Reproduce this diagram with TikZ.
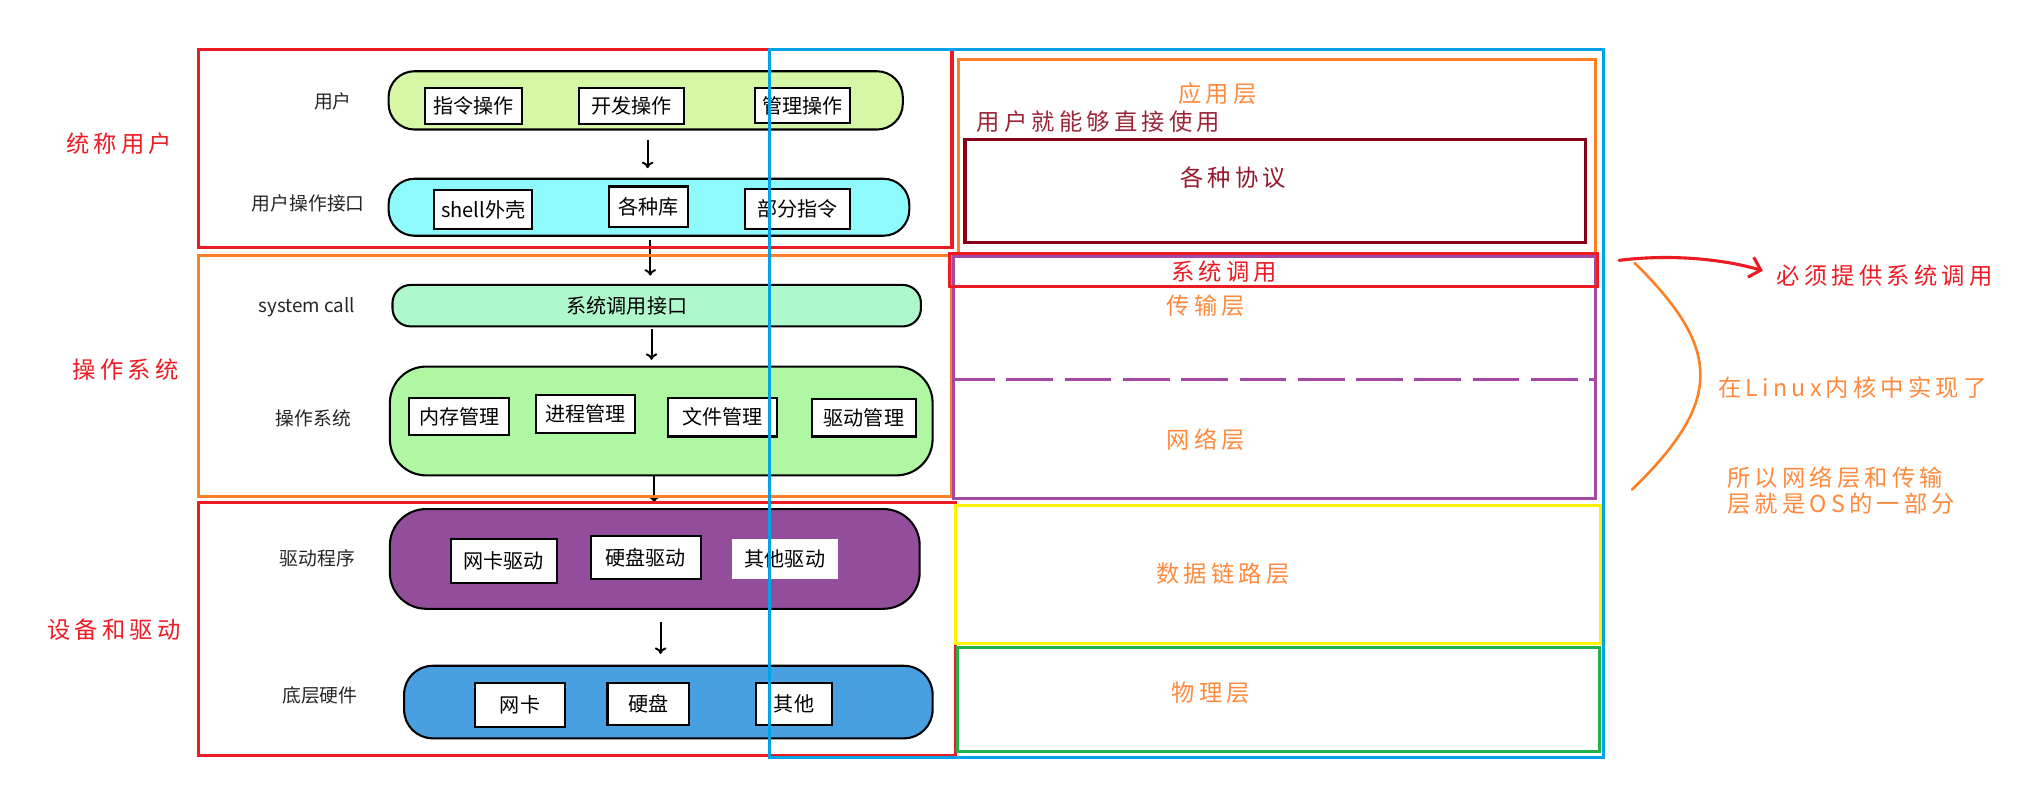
\documentclass[tikz,border=0pt]{standalone}
\usepackage{fontspec}
\usetikzlibrary{arrows.meta}
\newfontfamily\cjk{Noto Sans CJK SC}
\newfontfamily\hand[LetterSpace=18]{Noto Sans CJK SC}
\definecolor{pred}{HTML}{ED1C24}
\definecolor{porange}{HTML}{FF7F27}
\definecolor{torg}{HTML}{FF8A3D}
\definecolor{pblue}{HTML}{00A2E8}
\definecolor{ppurple}{HTML}{A349A4}
\definecolor{pyellow}{HTML}{FFF200}
\definecolor{pgreen}{HTML}{22B14C}
\definecolor{pdark}{HTML}{880015}
\definecolor{fillA}{HTML}{D6F8A6}
\definecolor{fillB}{HTML}{8EFAFB}
\definecolor{fillC}{HTML}{AEF8CC}
\definecolor{fillD}{HTML}{B0F7A3}
\definecolor{fillE}{HTML}{934E9B}
\definecolor{fillF}{HTML}{48A0E0}
\tikzset{
  pill/.style={draw=black, line width=1.6pt, rounded corners=#1},
  inbox/.style={draw=black, line width=1.6pt, fill=white, inner sep=0pt, font=\cjk\fontsize{15.5}{17}\selectfont},
  rowlabel/.style={font=\cjk\fontsize{14.5}{17}\selectfont, text=black!85},
  frame/.style={line width=2.4pt},
  flow/.style={line width=1.5pt, -{To[length=5pt,width=9pt,line width=1.5pt]}},
  sidelabel/.style={font=\hand\fontsize{18}{20}\selectfont, text=pred},
  layer/.style={font=\hand\fontsize{18}{20}\selectfont, text=torg},
}
\begin{document}
\begin{tikzpicture}[x=1pt,y=-1pt]
\useasboundingbox (0,0) rectangle (1568,623);
\fill[white] (0,0) rectangle (1568,623);

% ---- pills ----
\draw[pill=20pt, fill=fillA] (300,55) rectangle (697,100);
\node[inner sep=0pt, minimum width=397pt, minimum height=45pt] (p1) at (498.5,77.5) {};
\draw[pill=20pt, fill=fillB] (300,138) rectangle (702,182);
\node[inner sep=0pt, minimum width=402pt, minimum height=44pt] (p2) at (501,160) {};
\draw[pill=14pt, fill=fillC] (303,220) rectangle (711,252);
\node[inner sep=0pt, minimum width=408pt, minimum height=32pt] (p3) at (507,236) {};
\node[inner sep=0pt, font=\cjk\fontsize{15.5}{17}\selectfont] (p3t) at (484,236) {系统调用接口};
\draw[pill=28pt, fill=fillD] (301,283) rectangle (720,367);
\node[inner sep=0pt, minimum width=419pt, minimum height=84pt] (p4) at (510.5,325) {};
\draw[pill=28pt, fill=fillE] (301,393) rectangle (710,470);
\node[inner sep=0pt, minimum width=409pt, minimum height=77pt] (p5) at (505.5,431.5) {};
\draw[pill=22pt, fill=fillF] (312,514) rectangle (720,570);
\node[inner sep=0pt, minimum width=408pt, minimum height=56pt] (p6) at (516,542) {};

% ---- inner boxes ----
\node[inbox, minimum width=75pt, minimum height=28pt] (b11) at (365.5,82) {指令操作};
\node[inbox, minimum width=81pt, minimum height=28pt] (b12) at (487.5,82) {开发操作};
\node[inbox, minimum width=73pt, minimum height=27pt] (b13) at (619.5,81.5) {管理操作};
\node[inbox, minimum width=76pt, minimum height=30pt] (b21) at (373,162) {shell外壳};
\node[inbox, minimum width=61pt, minimum height=31pt] (b22) at (500.5,159.5) {各种库};
\node[inbox, minimum width=81pt, minimum height=31pt] (b23) at (615.5,161.5) {部分指令};
\node[inbox, minimum width=77pt, minimum height=29pt] (b41) at (354.5,321.5) {内存管理};
\node[inbox, minimum width=76pt, minimum height=29pt] (b42) at (452,319.5) {进程管理};
\node[inbox, minimum width=84pt, minimum height=30pt] (b43) at (558,322) {文件管理};
\node[inbox, minimum width=80pt, minimum height=29pt] (b44) at (667,322.5) {驱动管理};
\node[inbox, minimum width=82pt, minimum height=34pt] (b51) at (389,433) {网卡驱动};
\node[inbox, minimum width=85pt, minimum height=33pt] (b52) at (498.5,430.5) {硬盘驱动};
\node[inbox, draw=none, minimum width=82pt, minimum height=31pt] (b53) at (606,431.5) {其他驱动};
\node[inbox, minimum width=69pt, minimum height=34pt] (b61) at (401.5,544) {网卡};
\node[inbox, minimum width=63pt, minimum height=33pt] (b62) at (500.5,543.5) {硬盘};
\node[inbox, minimum width=58pt, minimum height=33pt] (b63) at (613,543.5) {其他};

% ---- row labels ----
\node[rowlabel] (l1) at (257,78) {用户};
\node[rowlabel] (l2) at (238,157) {用户操作接口};
\node[rowlabel] (l3) at (237,237) {system call};
\node[rowlabel] (l4) at (242,323) {操作系统};
\node[rowlabel] (l5) at (245,431) {驱动程序};
\node[rowlabel] (l6) at (247,537) {底层硬件};

% ---- arrows ----
\draw[flow, shorten <=8pt, shorten >=8pt] ([xshift=1.5pt]p1.south) -- ([xshift=1.5pt]p1.south |- p2.north);
\draw[flow, shorten <=3pt, shorten >=7pt] ([xshift=1pt]p2.south) -- ([xshift=1pt]p2.south |- p3.north);
\draw[flow, shorten <=2pt, shorten >=5pt] ([xshift=-4pt]p3.south) -- ([xshift=-4pt]p3.south |- p4.north);
\draw[flow, shorten >=5pt] ([xshift=-5.5pt]p4.south) -- ([xshift=-5.5pt]p4.south |- p5.north);
\draw[flow, shorten <=10pt, shorten >=9pt] ([xshift=4.5pt]p5.south) -- ([xshift=4.5pt]p5.south |- p6.north);

% ---- left frames ----
\draw[frame, pred] (153,38) rectangle (735,191);
\draw[frame, porange] (153,197) rectangle (735,383);
\draw[frame, pred] (153,388) rectangle (738,583);
\node[sidelabel] (s1) at (92,111) {统称用户};
\node[sidelabel] (s2) at (97,285) {操作系统};
\node[sidelabel] (s3) at (88,486) {设备和驱动};

% ---- right frames ----
\draw[frame, porange] (740,46) rectangle (1232,197);
\draw[frame, pdark] (745,108) rectangle (1224,187);
\draw[frame, ppurple] (736,198) rectangle (1232,385);
\draw[frame, ppurple, dash pattern=on 36pt off 9pt, dash phase=4pt] (736,293) -- (1232,293);
\draw[frame, pred] (733,196) rectangle (1233,221);
\draw[frame, pyellow] (738,390) rectangle (1236,497);
\draw[frame, pgreen] (739,500) rectangle (1235,580);
\draw[frame, pblue] (594,38) rectangle (1238,585);

\node[layer] (t1) at (940,72) {应用层};
\node[layer, text=pdark!85] (t2) at (848,94) {用户就能够直接使用};
\node[layer, text=pdark!90] (t3) at (952,137) {各种协议};
\node[layer, text=pred] (t4) at (945,210) {系统调用};
\node[layer] (t5) at (931,236) {传输层};
\node[layer] (t6) at (931,339) {网络层};
\node[layer] (t7) at (944,443) {数据链路层};
\node[layer] (t8) at (935,535) {物理层};

% ---- annotations ----
\coordinate (ra) at (1250,201);
\coordinate (rb) at (1361,209);
\draw[pred, line width=2.4pt, line cap=round, -{Straight Barb[length=8pt,width=16pt,line width=2.4pt]}] (ra) .. controls (1290,196) and (1330,200) .. (rb);
\node[layer, text=pred, anchor=west] (n1) at (1368,213) {必须提供系统调用};
\coordinate (oa) at (1262,203);
\coordinate (ob) at (1260,378);
\draw[porange, line width=2pt, line cap=round] (oa) .. controls (1330,270) and (1330,310) .. (ob);
\node[layer, anchor=west] (n2) at (1323,299) {在Linux内核中实现了};
\node[layer, anchor=west, align=left] (n3) at (1330,379) {所以网络层和传输\\层就是OS的一部分};
\end{tikzpicture}
\end{document}
